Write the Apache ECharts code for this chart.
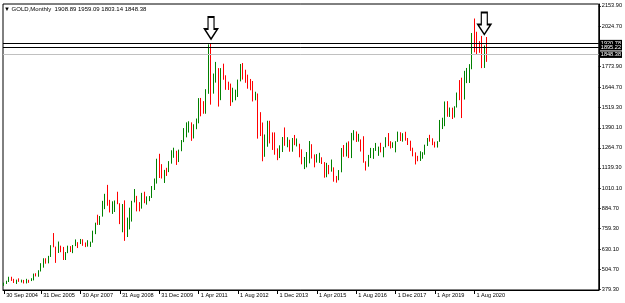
<!DOCTYPE html>
<html>
<head>
<meta charset="utf-8">
<script src="https://cdn.jsdelivr.net/npm/echarts@6/dist/echarts.min.js"></script>
<style>
  html, body { margin: 0; padding: 0; background: #fff; }
  #main { width: 625px; height: 303px; }
</style>
</head>
<body>
<div id="main"></div>
<script>
// monthly bars, each row is [open, high, low, close]
var y2004 = [[408,419,399,415],[415,431,411,428],[428,456,423,452],[452,456,430,438]];
var y2005 = [[438,443,417,422],[422,438,411,435],[435,446,424,427],[427,438,420,435],[435,436,414,417],[417,443,414,435],
             [435,437,418,429],[429,447,429,433],[433,476,433,473],[473,478,458,470],[470,497,456,495],[495,541,489,513]];
var y2006 = [[513,572,513,568],[568,572,538,556],[556,587,540,582],[582,654,580,654],[654,730,641,643],[643,645,543,613],
             [613,677,605,632],[632,651,610,623],[623,643,561,599],[599,611,561,604],[604,651,604,646],[646,648,611,632]];
var y2007 = [[632,655,604,651],[651,690,648,665],[665,673,636,662],[662,693,661,680],[680,691,650,659],[659,671,642,650],
             [650,685,645,665],[665,676,643,672],[672,745,670,743],[743,795,723,789],[789,845,781,783],[783,837,781,834]];
var y2008 = [[834,932,833,923],[923,976,880,972],[972,1032,901,916],[916,938,859,864],[864,929,850,885],[885,934,862,928],
             [928,989,911,913],[913,917,786,830],[830,912,735,880],[880,935,681,718],[718,827,705,815],[815,889,753,880]];
var y2009 = [[880,932,802,928],[928,1006,922,942],[942,963,866,916],[916,924,866,884],[884,982,883,980],[980,989,917,926],
             [926,960,908,954],[954,962,930,955],[955,1025,950,1008],[1008,1072,1000,1040],[1040,1196,1040,1182],[1182,1227,1075,1096]];
var y2010 = [[1096,1162,1072,1082],[1082,1126,1044,1118],[1118,1139,1088,1113],[1113,1181,1112,1180],[1180,1249,1165,1212],[1212,1265,1202,1244],
             [1244,1246,1157,1181],[1181,1253,1175,1248],[1248,1313,1243,1308],[1308,1388,1300,1357],[1357,1424,1330,1385],[1385,1431,1360,1421]];
var y2011 = [[1421,1424,1308,1332],[1332,1412,1323,1410],[1410,1448,1381,1439],[1439,1576,1418,1556],[1556,1577,1462,1536],[1536,1557,1478,1500],
             [1500,1632,1478,1628],[1628,1913,1603,1826],[1826,1921,1535,1620],[1620,1730,1604,1722],[1722,1803,1673,1746],[1746,1764,1523,1565]];
var y2012 = [[1565,1764,1563,1737],[1737,1792,1691,1710],[1710,1719,1628,1668],[1668,1679,1627,1664],[1664,1667,1527,1560],[1560,1641,1550,1604],
             [1604,1629,1562,1614],[1614,1692,1583,1692],[1692,1790,1681,1776],[1776,1796,1692,1719],[1719,1754,1672,1713],[1713,1723,1635,1675]];
var y2013 = [[1675,1696,1625,1663],[1663,1683,1555,1579],[1579,1616,1562,1597],[1597,1605,1322,1472],[1472,1488,1338,1393],[1393,1423,1180,1234],
             [1234,1348,1208,1314],[1314,1434,1271,1396],[1396,1434,1292,1327],[1327,1361,1251,1323],[1323,1361,1221,1250],[1250,1261,1187,1201]];
var y2014 = [[1201,1280,1200,1244],[1244,1332,1238,1326],[1326,1392,1277,1284],[1284,1331,1268,1296],[1296,1315,1240,1250],[1250,1326,1240,1327],
             [1327,1345,1281,1282],[1282,1323,1273,1287],[1287,1290,1205,1210],[1210,1255,1161,1171],[1171,1207,1131,1182],[1182,1238,1142,1184]];
var y2015 = [[1184,1307,1167,1283],[1283,1287,1197,1213],[1213,1223,1142,1183],[1183,1225,1172,1183],[1183,1233,1170,1190],[1190,1205,1163,1172],
             [1172,1175,1077,1095],[1095,1170,1080,1135],[1135,1157,1099,1115],[1115,1191,1115,1142],[1142,1142,1052,1065],[1065,1088,1046,1061]];
var y2016 = [[1061,1125,1061,1118],[1118,1263,1111,1238],[1238,1282,1208,1233],[1233,1297,1210,1293],[1293,1305,1200,1215],[1215,1358,1200,1322],
             [1322,1375,1311,1351],[1351,1367,1301,1309],[1309,1352,1303,1316],[1316,1317,1241,1277],[1277,1337,1171,1173],[1173,1180,1122,1146]];
var y2017 = [[1146,1220,1146,1211],[1211,1264,1200,1249],[1249,1263,1195,1249],[1249,1295,1245,1268],[1268,1272,1214,1269],[1269,1296,1236,1242],
             [1242,1270,1205,1269],[1269,1331,1267,1322],[1322,1357,1275,1280],[1280,1306,1260,1271],[1271,1299,1264,1275],[1275,1306,1236,1303]];
var y2018 = [[1303,1366,1302,1345],[1345,1362,1307,1318],[1318,1356,1303,1325],[1325,1365,1309,1315],[1315,1326,1282,1298],[1298,1309,1245,1253],
             [1253,1265,1211,1224],[1224,1236,1160,1201],[1201,1214,1180,1192],[1192,1243,1182,1215],[1215,1237,1196,1222],[1222,1284,1221,1282]];
var y2019 = [[1282,1326,1276,1321],[1321,1346,1303,1313],[1313,1324,1281,1292],[1292,1303,1266,1283],[1283,1306,1266,1305],[1305,1439,1302,1409],
             [1409,1453,1382,1413],[1413,1555,1400,1520],[1520,1557,1459,1472],[1472,1517,1458,1513],[1513,1516,1445,1464],[1464,1525,1454,1517]];
var y2020 = [[1517,1611,1517,1589],[1589,1689,1563,1585],[1585,1704,1451,1577],[1577,1747,1567,1686],[1686,1765,1670,1730],[1730,1789,1671,1781],
             [1781,1984,1757,1975],[1975,2075,1863,1968],[1968,1992,1848,1886],[1886,1933,1860,1879],[1879,1966,1764,1776],[1776,1906,1765,1898]];
var y2021 = [[1908.89,1959.09,1803.14,1848.38]];

var firstMonth = [2004, 9];
var emptySlots = 45;   // chart shift on the right

var tickMonths = ['2004-09','2005-12','2007-04','2008-08','2009-12','2011-04','2012-08','2013-12','2015-04','2016-08','2017-12','2019-04','2020-08'];
var tickLabels = ['30 Sep 2004','31 Dec 2005','30 Apr 2007','31 Aug 2008','31 Dec 2009','1 Apr 2011','1 Aug 2012','1 Dec 2013','1 Apr 2015','1 Aug 2016','1 Dec 2017','1 Apr 2019','1 Aug 2020'];
var priceTicks = [2153.90, 2024.70, 1773.90, 1644.70, 1519.30, 1390.10, 1264.70, 1139.30, 1010.10, 884.70, 759.30, 630.10, 504.70, 379.30];

var levelValues = [1920.78, 1895.22, 1848.38];
var levelColors = ['#000000', '#000000', '#c0c0c0'];
var arrowMonths = ['2011-09', '2020-12'];
var arrowValues = [2015, 2044];

var bars = [].concat(y2004, y2005, y2006, y2007, y2008, y2009, y2010, y2011, y2012, y2013, y2014, y2015, y2016, y2017, y2018, y2019, y2020, y2021);
var lastBar = bars[bars.length - 1];

var categories = [];
var yr = firstMonth[0], mo = firstMonth[1];
for (var i = 0; i < bars.length; i++) {
  categories.push(yr + '-' + (mo < 10 ? '0' + mo : mo));
  mo++;
  if (mo > 12) { mo = 1; yr++; }
}
for (var j = 0; j < emptySlots; j++) categories.push('');

// echarts wants [open, close, low, high]
var candleData = bars.map(function (b) { return [b[0], b[3], b[2], b[1]]; });

var isTick = function (idx, val) { return tickMonths.indexOf(val) >= 0; };

var arrowPath = 'path://M3.5,0 L9.5,0 L9.5,12 L13,12 L6.5,22 L0,12 L3.5,12 Z';

var option = {
  animation: false,
  backgroundColor: '#ffffff',
  textStyle: { fontFamily: 'Liberation Sans' },
  title: {
    text: '\u25BC GOLD,Monthly  ' + lastBar.map(function (v) { return v.toFixed(2); }).join(' '),
    left: 4,
    top: 6,
    padding: 0,
    textStyle: { fontSize: 6, fontWeight: 'normal', color: '#000', fontFamily: 'Liberation Sans' }
  },
  grid: {
    left: 3, right: 26, top: 4, bottom: 13,
    show: true, borderColor: '#000', borderWidth: 1, backgroundColor: '#fff'
  },
  xAxis: {
    type: 'category',
    data: categories,
    boundaryGap: true,
    axisLine: { lineStyle: { color: '#000', width: 1 } },
    axisTick: { show: true, alignWithLabel: true, interval: isTick, length: 4, lineStyle: { color: '#000' } },
    axisLabel: {
      interval: isTick,
      align: 'left',
      margin: 2,
      padding: [0, 0, 0, 2],
      fontSize: 5.6,
      color: '#000',
      formatter: function (val) {
        var k = tickMonths.indexOf(val);
        return k >= 0 ? tickLabels[k] : '';
      }
    },
    splitLine: { show: false }
  },
  yAxis: {
    type: 'value',
    position: 'right',
    min: 373,
    max: 2166,
    axisLine: { show: true, lineStyle: { color: '#000', width: 1 } },
    axisTick: { show: true, customValues: priceTicks, length: 2, lineStyle: { color: '#000' } },
    axisLabel: {
      customValues: priceTicks,
      margin: 3,
      fontSize: 5.6,
      color: '#000',
      formatter: function (v) { return v.toFixed(2); }
    },
    splitLine: { show: false }
  },
  series: [{
    type: 'candlestick',
    data: candleData,
    barWidth: 1,
    itemStyle: {
      color: '#008000',
      color0: '#ff0000',
      borderColor: '#008000',
      borderColor0: '#ff0000',
      borderWidth: 1
    },
    markLine: {
      silent: true,
      symbol: 'none',
      data: levelValues.map(function (v, k) {
        return {
          yAxis: v,
          lineStyle: { color: levelColors[k], width: 1, type: 'solid' },
          label: {
            show: true,
            position: 'end',
            distance: 1,
            formatter: v.toFixed(2),
            color: '#fff',
            backgroundColor: '#000',
            padding: [0.5, 1, 0, 1],
            fontSize: 5.6
          }
        };
      })
    },
    markPoint: {
      silent: true,
      symbol: arrowPath,
      symbolSize: [13, 22],
      itemStyle: { color: '#fff', borderColor: '#000', borderWidth: 1.5 },
      label: { show: false },
      data: arrowMonths.map(function (m, k) { return { coord: [m, arrowValues[k]] }; })
    }
  }]
};

var myChart = echarts.init(document.getElementById('main'));
myChart.setOption(option);
</script>
</body>
</html>
